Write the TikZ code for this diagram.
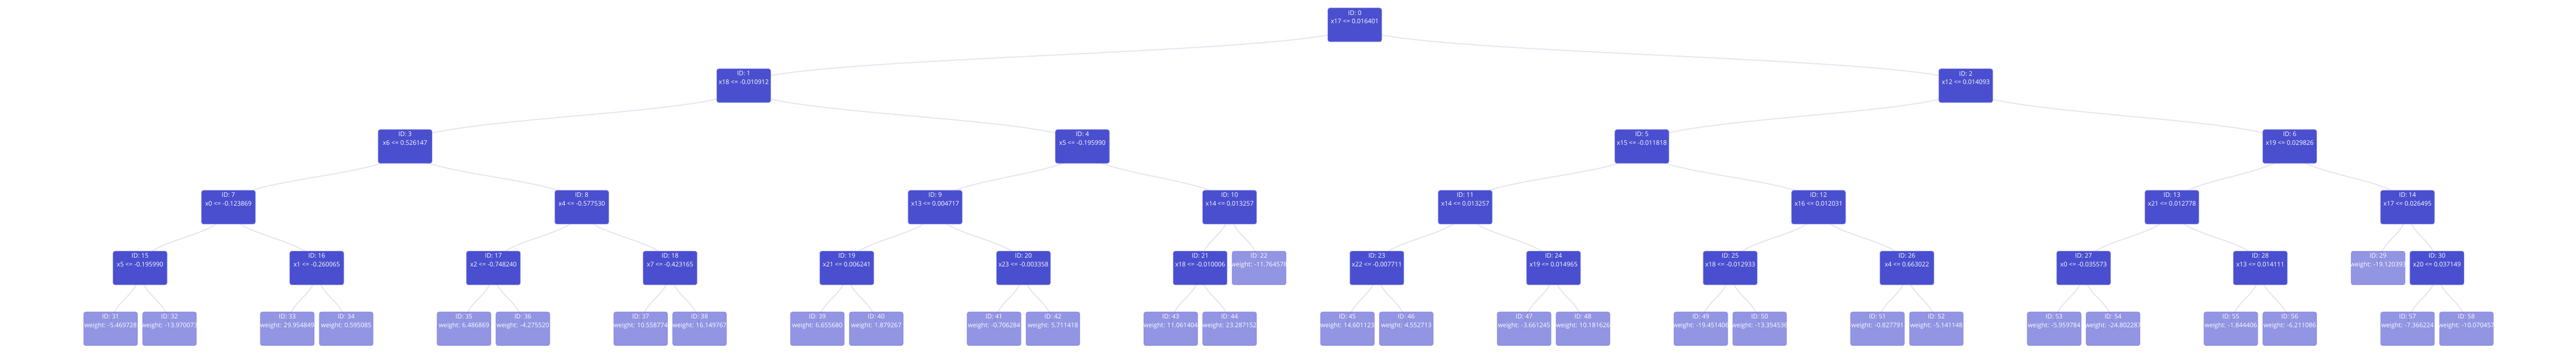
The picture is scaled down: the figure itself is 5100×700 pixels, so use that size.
\documentclass[tikz,border=0pt]{standalone}
\usepackage{fontspec}
\setmainfont{Open Sans}
\usetikzlibrary{backgrounds}
\definecolor{innerc}{RGB}{74,79,207}
\definecolor{edgec}{RGB}{228,228,240}
\definecolor{bordc}{RGB}{112,117,226}
\tikzset{
 box/.style={rectangle, rounded corners=4pt, minimum width=106.5pt, minimum height=66.5pt, inner sep=0pt, line width=1pt},
 inode/.style={box, fill=innerc, draw=bordc},
 lnode/.style={box, fill=innerc, fill opacity=0.6, draw=bordc, draw opacity=0.6},
 txt/.style={anchor=north, align=center, inner sep=0pt, text=white, font=\fontsize{12.5}{16.7}\selectfont},
 edge/.style={draw=edgec, line width=2pt},
}
\newcommand\mknode[5]{%
  \node[#2] (#1) at ({219+#3*116.6},{49.3+#4*120.3}) {};
  \node[txt] (#1t) at ([yshift=-4.9pt]#1.north) {#5};}
\newcommand\mklink[2]{\draw[edge] (#1.center) .. controls ([yshift=-60.15pt]#1.center) and ([yshift=60.15pt]#2.center) .. (#2.center);}
\begin{document}
\begin{tikzpicture}[x=1pt,y=-1pt]
\useasboundingbox (0,0) rectangle (5100,700);
% level 0
\mknode{n0}{inode}{21.125}{0}{ID: 0\\x17 <= 0.016401}
% level 1
\mknode{n1}{inode}{10.75}{1}{ID: 1\\x18 <= -0.010912}
\mknode{n2}{inode}{31.5}{1}{ID: 2\\x12 <= 0.014093}
% level 2
\mknode{n3}{inode}{5}{2}{ID: 3\\x6 <= 0.526147}
\mknode{n4}{inode}{16.5}{2}{ID: 4\\x5 <= -0.195990}
\mknode{n5}{inode}{26}{2}{ID: 5\\x15 <= -0.011818}
\mknode{n6}{inode}{37}{2}{ID: 6\\x19 <= 0.029826}
% level 3
\mknode{n7}{inode}{2}{3}{ID: 7\\x0 <= -0.123869}
\mknode{n8}{inode}{8}{3}{ID: 8\\x4 <= -0.577530}
\mknode{n9}{inode}{14}{3}{ID: 9\\x13 <= 0.004717}
\mknode{n10}{inode}{19}{3}{ID: 10\\x14 <= 0.013257}
\mknode{n11}{inode}{23}{3}{ID: 11\\x14 <= 0.013257}
\mknode{n12}{inode}{29}{3}{ID: 12\\x16 <= 0.012031}
\mknode{n13}{inode}{35}{3}{ID: 13\\x21 <= 0.012778}
\mknode{n14}{inode}{39}{3}{ID: 14\\x17 <= 0.026495}
% level 4
\mknode{n15}{inode}{0.5}{4}{ID: 15\\x5 <= -0.195990}
\mknode{n16}{inode}{3.5}{4}{ID: 16\\x1 <= -0.260065}
\mknode{n17}{inode}{6.5}{4}{ID: 17\\x2 <= -0.748240}
\mknode{n18}{inode}{9.5}{4}{ID: 18\\x7 <= -0.423165}
\mknode{n19}{inode}{12.5}{4}{ID: 19\\x21 <= 0.006241}
\mknode{n20}{inode}{15.5}{4}{ID: 20\\x23 <= -0.003358}
\mknode{n21}{inode}{18.5}{4}{ID: 21\\x18 <= -0.010006}
\mknode{n22}{lnode}{19.5}{4}{ID: 22\\weight: -11.764578}
\mknode{n23}{inode}{21.5}{4}{ID: 23\\x22 <= -0.007711}
\mknode{n24}{inode}{24.5}{4}{ID: 24\\x19 <= 0.014965}
\mknode{n25}{inode}{27.5}{4}{ID: 25\\x18 <= -0.012933}
\mknode{n26}{inode}{30.5}{4}{ID: 26\\x4 <= 0.663022}
\mknode{n27}{inode}{33.5}{4}{ID: 27\\x0 <= -0.035573}
\mknode{n28}{inode}{36.5}{4}{ID: 28\\x13 <= 0.014111}
\mknode{n29}{lnode}{38.5}{4}{ID: 29\\weight: -19.120393}
\mknode{n30}{inode}{39.5}{4}{ID: 30\\x20 <= 0.037149}
% level 5
\mknode{n31}{lnode}{0}{5}{ID: 31\\weight: -5.469728}
\mknode{n32}{lnode}{1}{5}{ID: 32\\weight: -13.970073}
\mknode{n33}{lnode}{3}{5}{ID: 33\\weight: 29.954849}
\mknode{n34}{lnode}{4}{5}{ID: 34\\weight: 0.595085}
\mknode{n35}{lnode}{6}{5}{ID: 35\\weight: 6.486869}
\mknode{n36}{lnode}{7}{5}{ID: 36\\weight: -4.275520}
\mknode{n37}{lnode}{9}{5}{ID: 37\\weight: 10.558774}
\mknode{n38}{lnode}{10}{5}{ID: 38\\weight: 16.149767}
\mknode{n39}{lnode}{12}{5}{ID: 39\\weight: 6.655680}
\mknode{n40}{lnode}{13}{5}{ID: 40\\weight: 1.879267}
\mknode{n41}{lnode}{15}{5}{ID: 41\\weight: -0.706284}
\mknode{n42}{lnode}{16}{5}{ID: 42\\weight: 5.711418}
\mknode{n43}{lnode}{18}{5}{ID: 43\\weight: 11.061404}
\mknode{n44}{lnode}{19}{5}{ID: 44\\weight: 23.287152}
\mknode{n45}{lnode}{21}{5}{ID: 45\\weight: 14.601123}
\mknode{n46}{lnode}{22}{5}{ID: 46\\weight: 4.552713}
\mknode{n47}{lnode}{24}{5}{ID: 47\\weight: -3.661245}
\mknode{n48}{lnode}{25}{5}{ID: 48\\weight: 10.181626}
\mknode{n49}{lnode}{27}{5}{ID: 49\\weight: -19.451406}
\mknode{n50}{lnode}{28}{5}{ID: 50\\weight: -13.354536}
\mknode{n51}{lnode}{30}{5}{ID: 51\\weight: -0.827791}
\mknode{n52}{lnode}{31}{5}{ID: 52\\weight: -5.141148}
\mknode{n53}{lnode}{33}{5}{ID: 53\\weight: -5.959784}
\mknode{n54}{lnode}{34}{5}{ID: 54\\weight: -24.802287}
\mknode{n55}{lnode}{36}{5}{ID: 55\\weight: -1.844406}
\mknode{n56}{lnode}{37}{5}{ID: 56\\weight: -6.211086}
\mknode{n57}{lnode}{39}{5}{ID: 57\\weight: -7.366224}
\mknode{n58}{lnode}{40}{5}{ID: 58\\weight: -10.070457}
\begin{pgfonlayer}{background}
\fill[white] (0,0) rectangle (5100,700);
\mklink{n0}{n1}\mklink{n0}{n2}
\mklink{n1}{n3}\mklink{n1}{n4}\mklink{n2}{n5}\mklink{n2}{n6}
\mklink{n3}{n7}\mklink{n3}{n8}\mklink{n4}{n9}\mklink{n4}{n10}
\mklink{n5}{n11}\mklink{n5}{n12}\mklink{n6}{n13}\mklink{n6}{n14}
\mklink{n7}{n15}\mklink{n7}{n16}\mklink{n8}{n17}\mklink{n8}{n18}
\mklink{n9}{n19}\mklink{n9}{n20}\mklink{n10}{n21}\mklink{n10}{n22}
\mklink{n11}{n23}\mklink{n11}{n24}\mklink{n12}{n25}\mklink{n12}{n26}
\mklink{n13}{n27}\mklink{n13}{n28}\mklink{n14}{n29}\mklink{n14}{n30}
\mklink{n15}{n31}\mklink{n15}{n32}\mklink{n16}{n33}\mklink{n16}{n34}
\mklink{n17}{n35}\mklink{n17}{n36}\mklink{n18}{n37}\mklink{n18}{n38}
\mklink{n19}{n39}\mklink{n19}{n40}\mklink{n20}{n41}\mklink{n20}{n42}
\mklink{n21}{n43}\mklink{n21}{n44}\mklink{n23}{n45}\mklink{n23}{n46}
\mklink{n24}{n47}\mklink{n24}{n48}\mklink{n25}{n49}\mklink{n25}{n50}
\mklink{n26}{n51}\mklink{n26}{n52}\mklink{n27}{n53}\mklink{n27}{n54}
\mklink{n28}{n55}\mklink{n28}{n56}\mklink{n30}{n57}\mklink{n30}{n58}
\end{pgfonlayer}
\end{tikzpicture}
\end{document}
